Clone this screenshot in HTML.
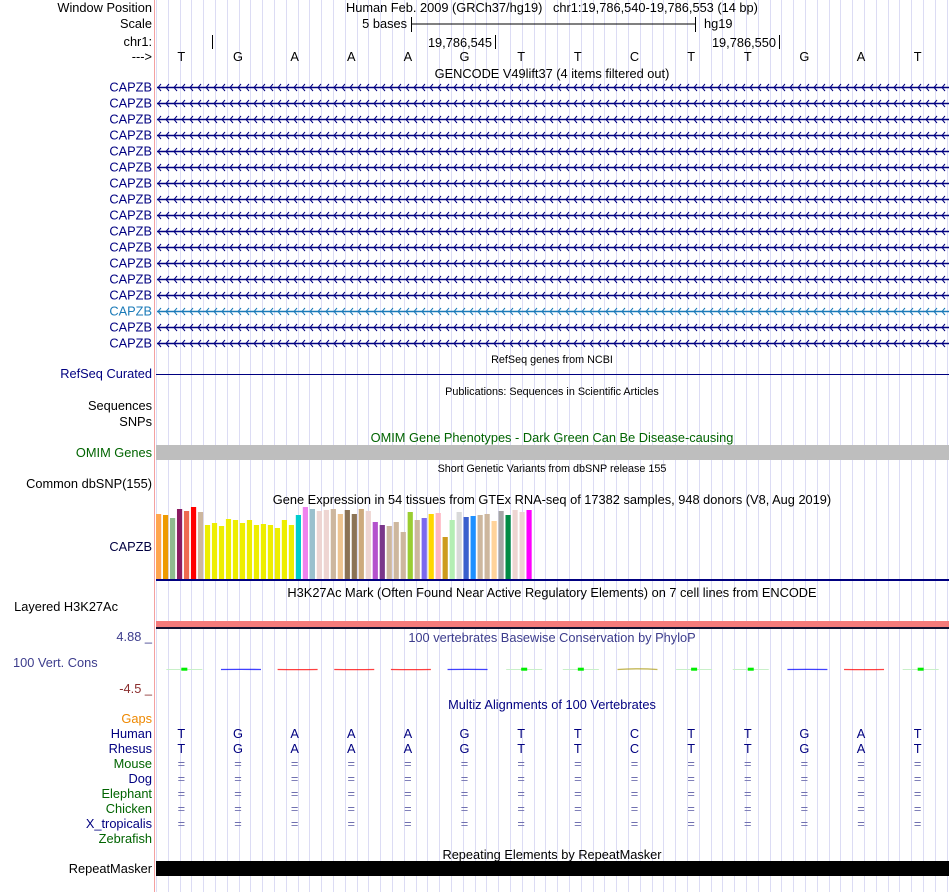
<!DOCTYPE html>
<html><head><meta charset="utf-8">
<style>
body{margin:0;background:#fff;width:950px;height:892px;overflow:hidden;font-family:"Liberation Sans",sans-serif;}
svg{position:absolute;left:0;top:0;}
text{font-family:"Liberation Sans",sans-serif;font-size:12.8px;}
.lbl{text-anchor:end;}
.sm{font-size:10.8px;}
</style></head>
<body>
<svg id="s" width="950" height="892">
<g id="grid"></g>
<line x1="154.5" y1="0" x2="154.5" y2="892" stroke="#f4a0a0" stroke-width="1"/>

<g>
<text class="lbl" x="152" y="12">Window Position</text>
<text class="lbl" x="152" y="28">Scale</text>
<text class="lbl" x="152" y="46">chr1:</text>
<text class="lbl" x="152" y="61">---&gt;</text>
<text class="lbl" x="152" y="378" fill="#000080">RefSeq Curated</text>
<text class="lbl" x="152" y="410">Sequences</text>
<text class="lbl" x="152" y="426">SNPs</text>
<text class="lbl" x="152" y="457" fill="#006400">OMIM Genes</text>
<text class="lbl" x="152" y="488">Common dbSNP(155)</text>
<text class="lbl" x="152" y="551" fill="#000040">CAPZB</text>
<text class="lbl" x="118" y="611">Layered H3K27Ac</text>
<text class="lbl" x="152" y="641" fill="#3c3c8c">4.88 _</text>
<text x="13" y="667" fill="#3c3c8c">100 Vert. Cons</text>
<text class="lbl" x="152" y="693" fill="#8b2e2e">-4.5 _</text>
<text class="lbl" x="152" y="723" fill="#ee8800">Gaps</text>
<text class="lbl" x="152" y="738" fill="#000080">Human</text>
<text class="lbl" x="152" y="753" fill="#000080">Rhesus</text>
<text class="lbl" x="152" y="768" fill="#006400">Mouse</text>
<text class="lbl" x="152" y="783" fill="#000080">Dog</text>
<text class="lbl" x="152" y="798" fill="#006400">Elephant</text>
<text class="lbl" x="152" y="813" fill="#006400">Chicken</text>
<text class="lbl" x="152" y="828" fill="#000080">X_tropicalis</text>
<text class="lbl" x="152" y="843" fill="#006400">Zebrafish</text>
<text class="lbl" x="152" y="873">RepeatMasker</text>
</g>

<g>
<text x="346" y="12">Human Feb. 2009 (GRCh37/hg19)&#160;&#160;&#160;chr1:19,786,540-19,786,553 (14 bp)</text>
<text x="407" y="28" text-anchor="end">5 bases</text>
<line x1="411" y1="24" x2="695" y2="24" stroke="#000"/>
<line x1="411.5" y1="17" x2="411.5" y2="32" stroke="#000"/>
<line x1="695.5" y1="17" x2="695.5" y2="32" stroke="#000"/>
<text x="704" y="28">hg19</text>
<line x1="212.5" y1="35" x2="212.5" y2="49" stroke="#000"/>
<text x="492" y="47" text-anchor="end">19,786,545</text>
<line x1="495.5" y1="35" x2="495.5" y2="49" stroke="#000"/>
<text x="776" y="47" text-anchor="end">19,786,550</text>
<line x1="779.5" y1="35" x2="779.5" y2="49" stroke="#000"/>
<g id="bases"></g>
</g>

<g>
<text x="552" y="78" text-anchor="middle">GENCODE V49lift37 (4 items filtered out)</text>
<text x="552" y="363" text-anchor="middle" class="sm">RefSeq genes from NCBI</text>
<text x="552" y="395" text-anchor="middle" class="sm">Publications: Sequences in Scientific Articles</text>
<text x="552" y="442" text-anchor="middle" fill="#006400">OMIM Gene Phenotypes - Dark Green Can Be Disease-causing</text>
<text x="552" y="472" text-anchor="middle" class="sm">Short Genetic Variants from dbSNP release 155</text>
<text x="552" y="504" text-anchor="middle">Gene Expression in 54 tissues from GTEx RNA-seq of 17382 samples, 948 donors (V8, Aug 2019)</text>
<text x="552" y="597" text-anchor="middle">H3K27Ac Mark (Often Found Near Active Regulatory Elements) on 7 cell lines from ENCODE</text>
<text x="552" y="642" text-anchor="middle" fill="#3c3c8c">100 vertebrates Basewise Conservation by PhyloP</text>
<text x="552" y="709" text-anchor="middle" fill="#000080">Multiz Alignments of 100 Vertebrates</text>
<text x="552" y="859" text-anchor="middle">Repeating Elements by RepeatMasker</text>
</g>

<g id="genes"></g>
<line x1="156" y1="374.5" x2="949" y2="374.5" stroke="#000080"/>
<rect x="156" y="445" width="793" height="15" fill="#bebebe"/>
<g id="gtex"></g>
<rect x="156" y="579" width="793" height="2" fill="#000080"/>
<rect x="156" y="621" width="793" height="6" fill="#f47a7a"/>
<rect x="156" y="627" width="793" height="2" fill="#101030"/>
<g id="cons"></g>
<g id="multiz"></g>
<rect x="156" y="861" width="793" height="15" fill="#000"/>
</svg>
<script>
const NS='http://www.w3.org/2000/svg';
function mk(tag,attrs,parent){const e=document.createElementNS(NS,tag);for(const k in attrs)e.setAttribute(k,attrs[k]);parent.appendChild(e);return e;}

const bases=['T','G','A','A','A','G','T','T','C','T','T','G','A','T'];
const rhesus=['T','G','A','A','A','G','T','T','C','T','T','G','A','T'];
const consScores=[0.1,-0.1,-0.15,-0.15,-0.15,-0.1,0.1,0.1,0.05,0.1,0.1,-0.1,-0.15,0.1];
const gtexValues=[65,64,61,70,68,72,67,54,56,53,60,59,56,59,54,55,54,51,59,54,64,72,70,68,69,70,65,69,65,70,68,57,54,53,57,47,67,59,61,65,66,42,59,67,62,63,64,65,58,68,64,69,67,69];
const gtexColors=['#FFA54F','#EE9A00','#8FBC8F','#8B1C62','#EE6A50','#FF0000','#CDB79E','#EEEE00','#EEEE00','#EEEE00','#EEEE00','#EEEE00','#EEEE00','#EEEE00','#EEEE00','#EEEE00','#EEEE00','#EEEE00','#EEEE00','#EEEE00','#00CDCD','#EE82EE','#9AC0CD','#EED5D2','#EED5D2','#CDB79E','#EEC591','#8B7355','#8B7355','#CDAA7D','#EED5D2','#B452CD','#7A378B','#CDB79E','#CDB79E','#CDB79E','#9ACD32','#CDB79E','#7B68EE','#FFD700','#FFB6C1','#CD9B1D','#B4EEB4','#D9D9D9','#3A5FCD','#1E90FF','#CDB79E','#CDB79E','#FFD39B','#A6A6A6','#008B45','#EED5D2','#EED5D2','#FF00FF'];
const geneRows=17;

const X0=156, X1=949;
const baseW=(X1-X0)/bases.length;
function baseX(i){return X0+baseW*(i+0.5)-3;}
function gtexX(i){return 156+i*6.99;}
function gtexY(v){return 579-v;}
function consY(v){return 669-v*8;}

const grid=document.getElementById('grid');
for(let x=156;x<950;x+=11.8){
 const l=mk('line',{x1:Math.round(x)+0.5,y1:0,x2:Math.round(x)+0.5,y2:892,stroke:'#dcdcf4','stroke-width':1},grid);
 
 
}
const bg=document.getElementById('bases');
bases.forEach((b,i)=>{const t=mk('text',{x:baseX(i),y:61,'text-anchor':'middle'},bg);t.textContent=b;
 
 });
const gg=document.getElementById('genes');
for(let r=0;r<geneRows;r++){
 const y=87+r*16;
 const col=r===14?'#1a7ab8':'#000080';
 const lab=mk('text',{x:152,y:y+4.5,'text-anchor':'end',fill:col},gg);lab.textContent='CAPZB';
 
 
 const ln=mk('line',{x1:157,y1:y+0.5,x2:949,y2:y+0.5,stroke:col,'stroke-width':1.5},gg);
 
 
 let d='';for(let x=157;x<949;x+=8){d+='M'+(x+4)+','+(y-3)+' L'+(x+1)+','+(y+0.5)+' L'+(x+4)+','+(y+4)+' ';}
 const p=mk('path',{d:d,stroke:col,fill:'none','stroke-width':1},gg);
 
 
}
const gt=document.getElementById('gtex');
gtexValues.forEach((v,i)=>{const r=mk('rect',{x:gtexX(i),y:gtexY(v),width:5.2,height:579-gtexY(v),fill:gtexColors[i]},gt);
 
 });
const cg=document.getElementById('cons');
const bcol={A:'#ff0000',C:'#b0a020',G:'#0000ff',T:'#00dd00'};
bases.forEach((b,i)=>{const cx=baseX(i)+3;const y=consY(consScores[i]);
 if(b==='T'){
  const l=mk('line',{x1:cx-18,y1:669.5,x2:cx+18,y2:669.5,stroke:'#c8f0c8','stroke-width':1},cg);
  
  
  const r=mk('rect',{x:cx-3,y:Math.min(y,669)-0.5,width:6,height:3,fill:'#00ee00'},cg);
  
  
 } else {
  const p=mk('path',{d:'M'+(cx-20)+',669.5 Q'+cx+','+(y-0.5)+' '+(cx+20)+',669.5',stroke:bcol[b],fill:'none','stroke-width':1.3,opacity:0.75},cg);
  
  
 }
});
const mg=document.getElementById('multiz');
bases.forEach((b,i)=>{const cx=baseX(i);
 const t1=mk('text',{x:cx,y:738,'text-anchor':'middle',fill:'#000080'},mg);t1.textContent=b;
 
 
 const t2=mk('text',{x:cx,y:753,'text-anchor':'middle',fill:'#000080'},mg);t2.textContent=rhesus[i];
 
 
 for(let k=0;k<5;k++){const t=mk('text',{x:cx,y:768+k*15,'text-anchor':'middle',fill:'#7070b0'},mg);t.textContent='=';
  
  }
});
</script>
</body></html>
